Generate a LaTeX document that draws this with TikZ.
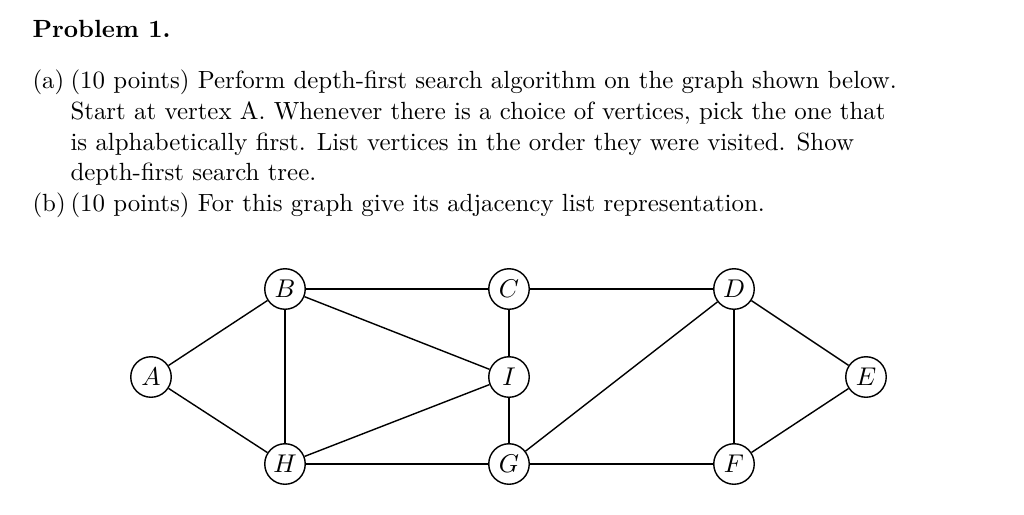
\documentclass[tikz,border=0pt]{standalone}
\usepackage{tikz}
\usetikzlibrary{calc}
\tikzset{
  vtx/.style={circle,draw=black,line width=.55pt,fill=white,minimum size=15.8pt,inner sep=0pt},
  ptext/.style={anchor=base west,inner sep=0pt,font=\fontsize{9.7}{11.6}\selectfont},
  edge/.style={draw=black,line width=.55pt}
}

\begin{document}
\begin{tikzpicture}[x=0.39pt,y=-0.39pt]
  \useasboundingbox (0,0) rectangle (1024,515);

  \node[ptext,font=\fontsize{9.7}{11.6}\selectfont\bfseries] (title) at (32,37) {Problem 1.};
  \node[ptext] (la) at (32,88) {(a)};
  \node[ptext] (l1) at (70,88) {(10 points) Perform depth-first search algorithm on the graph shown below.};
  \node[ptext] (l2) at (70,119) {Start at vertex A. Whenever there is a choice of vertices, pick the one that};
  \node[ptext] (l3) at (70,150) {is alphabetically first. List vertices in the order they were visited. Show};
  \node[ptext] (l4) at (70,180) {depth-first search tree.};
  \node[ptext] (lb) at (32,211) {(b)};
  \node[ptext] (l5) at (70,211) {(10 points) For this graph give its adjacency list representation.};

  % vertices
  \foreach \n/\x/\y in {A/151/377,B/285/289,C/509/289,D/734/289,E/866/377,
                        I/509/377,H/285/464,G/509/464,F/734/464}
    \node[vtx] (\n) at (\x,\y) {$\n$};

  % edges
  \foreach \a/\b in {A/B,A/H,B/C,B/H,B/I,C/D,C/I,I/G,I/H,H/G,G/F,G/D,D/F,D/E,E/F}
    \draw[edge] (\a) -- (\b);
\end{tikzpicture}
\end{document}
